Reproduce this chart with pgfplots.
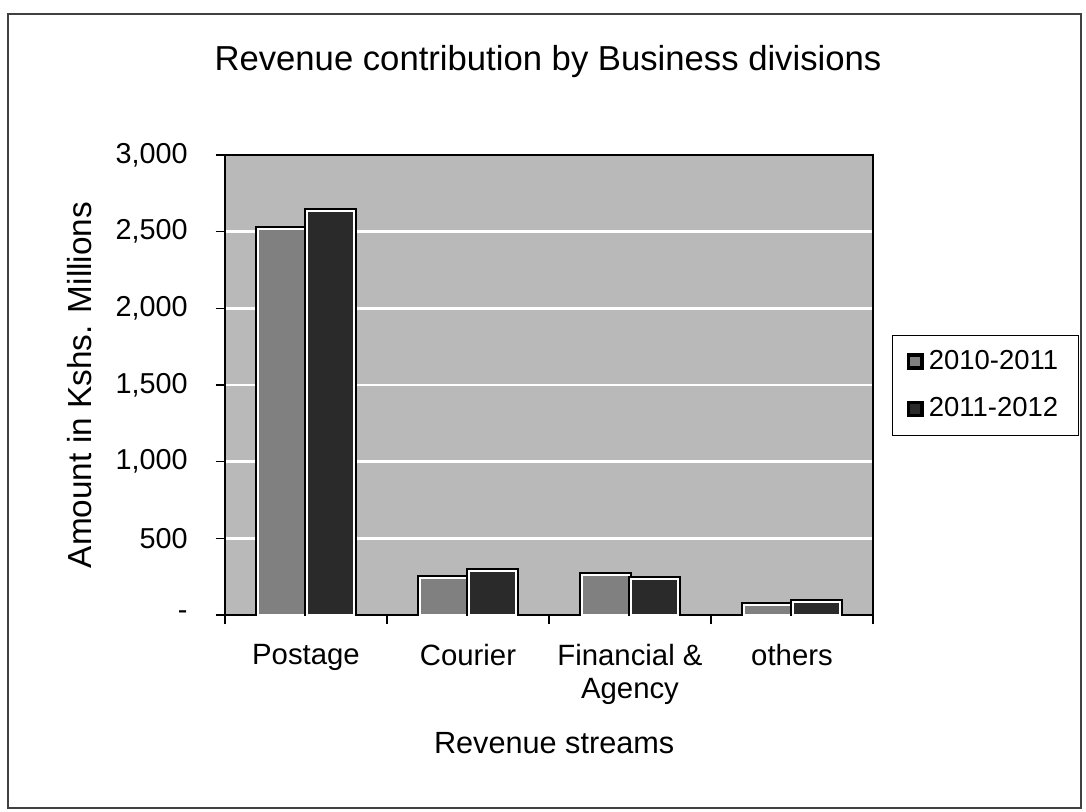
\documentclass[border=0pt]{standalone}
\usepackage{fontspec}
\setmainfont{Liberation Sans}
\usepackage{pgfplots}
\pgfplotsset{compat=1.18}
\definecolor{bgfill}{HTML}{B9B9B9}
\definecolor{barA}{HTML}{808080}
\definecolor{barB}{HTML}{2A2A2A}

\pgfplotstableread{
idx v1011 v1112
0 2520 2635
1 241 288
2 260 237
3 63 82
}\revtable

\begin{document}
\begin{tikzpicture}
\useasboundingbox (-84.375pt,-73.5pt) rectangle (322.875pt,230.625pt);
\draw[black!75, line width=0.6pt] (-81.375pt,-72.375pt) rectangle (321pt,225.375pt);
\node[font=\fontsize{13}{15}\selectfont] at (121.1pt,207.5pt) {Revenue contribution by Business divisions};
\begin{axis}[
  at={(0pt,0pt)}, anchor=south west,
  scale only axis, width=243pt, height=172.5pt,
  xmin=-0.5, xmax=3.5, ymin=0, ymax=3000,
  ybar, bar width=17.6pt,
  axis background/.style={fill=bgfill},
  axis line style={black, line width=0.7pt},
  tick pos=left, tick align=outside, major tick length=3.5pt,
  tick style={black, line width=0.6pt},
  xtick={-0.5,0.5,1.5,2.5,3.5}, xticklabels={},
  extra x ticks={0,1,2,3},
  extra x tick labels={Postage,Courier,{Financial \&\\Agency},others},
  extra x tick style={major tick length=0pt},
  xticklabel style={font=\fontsize{11}{12.2}\selectfont, align=center, anchor=north, yshift=-7.5pt},
  ytick={0,500,1000,1500,2000,2500,3000},
  yticklabels={-,500,{1,000},{1,500},{2,000},{2,500},{3,000}},
  yticklabel style={font=\fontsize{10.8}{12}\selectfont, xshift=-7pt},
  ymajorgrids, grid style={white, line width=1pt},
  ylabel={Amount in Kshs. Millions},
  ylabel style={font=\fontsize{12.5}{14}\selectfont, at={(axis description cs:-0.224,0.5)}, anchor=center},
  xlabel={Revenue streams},
  xlabel style={font=\fontsize{11.5}{13}\selectfont, at={(axis description cs:0.508,-0.278)}, anchor=center},
  legend style={at={(1.029,0.609)}, anchor=north west, draw=black, fill=white,
    font=\fontsize{10.3}{12}\selectfont, row sep=5pt, inner xsep=5.5pt, inner ysep=3.5pt,
    legend cell align=left},
]
\addplot[fill=barA, draw=white, line width=0.7pt, bar shift=-9.2pt,
  preaction={draw=black, line width=2.2pt},
  legend image code/.code={\draw[fill=barA, draw=black, line width=0.4pt] (0pt,-2pt) rectangle (4pt,2pt);}]
  table[x=idx, y=v1011] {\revtable};
\addlegendentry{2010-2011}
\addplot[fill=barB, draw=white, line width=0.7pt, bar shift=9.2pt,
  preaction={draw=black, line width=2.2pt},
  legend image code/.code={\draw[fill=barB, draw=black, line width=0.4pt] (0pt,-2pt) rectangle (4pt,2pt);}]
  table[x=idx, y=v1112] {\revtable};
\addlegendentry{2011-2012}
\end{axis}
\end{tikzpicture}
\end{document}
